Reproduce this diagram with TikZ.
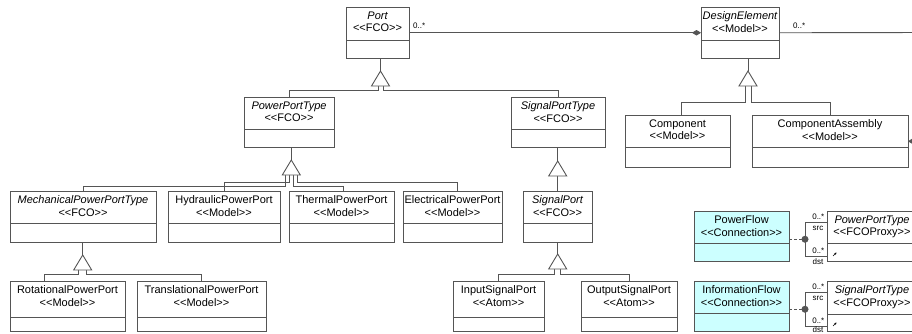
\documentclass[tikz,border=0pt]{standalone}
\usepackage{fontspec}
\setmainfont{Liberation Sans}
\usetikzlibrary{calc,arrows.meta}
\definecolor{ln}{RGB}{85,85,85}
\definecolor{cyanfill}{RGB}{204,255,255}
\tikzset{
  umlline/.style={draw=ln, line width=0.9pt},
  clsbox/.style={draw=ln, line width=0.9pt, rectangle, inner sep=0pt, outer sep=0pt},
  clstext/.style={font=\fontsize{11}{12.5}\selectfont, align=center, inner sep=0pt, anchor=north, text=black},
  smalllbl/.style={font=\fontsize{8}{9}\selectfont, inner sep=0pt, text=black},
  dashline/.style={draw=ln, line width=0.9pt, dash pattern=on 3pt off 2pt},
  aggr/.style={draw=ln, line width=0.9pt, -{Diamond[length=9pt,width=5.5pt]}},
  proxyarrow/.style={draw=black, line width=0.6pt, -{Stealth[length=2.4pt,width=2.4pt]}},
}
\newcommand\st[1]{<{}<#1>{}>}
% name, left, top, width, height, divider offset, line1, line2, fill
\newcommand\umlcls[9]{%
  \node[clsbox, fill=#9, minimum width=#4, minimum height=#5] (#1) at ({#2+#4/2},{#3+#5/2}) {};
  \node[clstext] (#1-txt) at ({#2+#4/2},{#3+4.5}) {#7\\#8};
  \draw[umlline] ($(#1.north west)+(0,#6)$) -- ($(#1.north east)+(0,#6)$);
}
\newcommand\gtri[1]{\draw[umlline, fill=white] (#1) -- ++(-9,15) -- ++(18,0) -- cycle;}
\begin{document}
\begin{tikzpicture}[x=1pt,y=-1pt]
\clip (0,0) rectangle (912,333);
\fill[white] (0,0) rectangle (912,333);

\umlcls{port}{346}{7}{63}{51.5}{33}{\itshape Port}{\st{FCO}}{white}
\umlcls{de}{701}{7}{78}{51.5}{33}{\itshape DesignElement}{\st{Model}}{white}
\umlcls{ppt}{244}{97}{90}{50.5}{32.5}{\itshape PowerPortType}{\st{FCO}}{white}
\umlcls{spt}{511}{97}{94}{50.5}{32.5}{\itshape SignalPortType}{\st{FCO}}{white}
\umlcls{comp}{625}{115}{105}{52.5}{32.5}{Component}{\st{Model}}{white}
\umlcls{ca}{752}{115}{156}{52.5}{32.5}{ComponentAssembly}{\st{Model}}{white}
\umlcls{mech}{10}{191}{146}{51.5}{32.5}{\itshape MechanicalPowerPortType}{\st{FCO}}{white}
\umlcls{hyd}{168}{191}{112}{51.5}{32.5}{HydraulicPowerPort}{\st{Model}}{white}
\umlcls{therm}{289}{191}{105}{51.5}{32.5}{ThermalPowerPort}{\st{Model}}{white}
\umlcls{elec}{403}{191}{99}{51.5}{32.5}{ElectricalPowerPort}{\st{Model}}{white}
\umlcls{sp}{523}{191}{69}{51.5}{32.5}{\itshape SignalPort}{\st{FCO}}{white}
\umlcls{rot}{10}{281}{115}{50}{36}{RotationalPowerPort}{\st{Model}}{white}
\umlcls{trans}{137}{281}{129}{50}{36}{TranslationalPowerPort}{\st{Model}}{white}
\umlcls{isp}{453}{281}{91}{50}{36}{InputSignalPort}{\st{Atom}}{white}
\umlcls{osp}{581}{281}{96}{50}{36}{OutputSignalPort}{\st{Atom}}{white}
\umlcls{pf}{694}{211}{95}{50}{32.5}{PowerFlow}{\st{Connection}}{cyanfill}
\umlcls{infl}{694}{281}{95}{50}{32.5}{InformationFlow}{\st{Connection}}{cyanfill}
\umlcls{pptp}{827}{211}{90}{50}{32}{\itshape PowerPortType}{\st{FCOProxy}}{white}
\umlcls{sptp}{827}{281}{90}{50}{33}{\itshape SignalPortType}{\st{FCOProxy}}{white}

% Port generalization
\coordinate (gPort) at (380.5,71);
\draw[umlline] (port.south -| gPort) -- (gPort);
\draw[umlline] ($(gPort)+(-2.5,15)$) -- ++(0,4) -| (ppt.north);
\draw[umlline] ($(gPort)+(2.5,15)$) -- ++(0,4) -| (spt.north);
\gtri{gPort}

% DesignElement generalization
\coordinate (gDE) at (748,71);
\draw[umlline] (de.south -| gDE) -- (gDE);
\draw[umlline] ($(gDE)+(-3,15)$) -- ++(0,16.7) -| ($(comp.north)+(4,0)$);
\draw[umlline] ($(gDE)+(3,15)$) -- ++(0,16.7) -| (ca.north);
\gtri{gDE}

% PowerPortType generalization
\coordinate (gPPT) at (291.3,160);
\draw[umlline] (ppt.south -| gPPT) -- (gPPT);
\draw[umlline] ($(gPPT)+(-6,15)$) -- ++(0,11) -| (mech.north);
\draw[umlline] ($(gPPT)+(-2,15)$) -- ++(0,7) -| (hyd.north);
\draw[umlline] ($(gPPT)+(2,15)$) -- ++(0,11) -| ($(therm.north)+(1.5,0)$);
\draw[umlline] ($(gPPT)+(6,15)$) -- ++(0,7) -| ($(elec.north)+(5,0)$);
\gtri{gPPT}

% SignalPortType generalization
\coordinate (gSPT) at (557.7,161);
\draw[umlline] (spt.south -| gSPT) -- (gSPT);
\draw[umlline] ($(gSPT)+(0,15)$) -- (sp.north -| gSPT);
\gtri{gSPT}

% SignalPort generalization
\coordinate (gSP) at (557.7,254);
\draw[umlline] (sp.south -| gSP) -- (gSP);
\draw[umlline] ($(gSP)+(-3,15)$) -- ++(0,5) -| (isp.north);
\draw[umlline] ($(gSP)+(3,15)$) -- ++(0,5) -| (osp.north);
\gtri{gSP}

% MechanicalPowerPortType generalization
\coordinate (gMech) at (82.7,255);
\draw[umlline] (mech.south -| gMech) -- (gMech);
\draw[umlline] ($(gMech)+(-4,15)$) -- ++(0,4.3) -| ($(rot.north west)+(34,0)$);
\draw[umlline] ($(gMech)+(4,15)$) -- ++(0,4.3) -| (trans.north);
\gtri{gMech}

% associations
\draw[aggr] (port.east) -- (de.west);
\node[smalllbl, anchor=west] (lblPort) at (413,25.5) {0..*};
\coordinate (deOut) at (930,32.5);
\draw[umlline] (de.east) -- (deOut);
\node[smalllbl, anchor=west] (lblDE) at (793,25.5) {0..*};
\coordinate (caOut) at (940,141.25);
\draw[aggr] (caOut) -- (ca.east);

% PowerFlow connection
\coordinate (pfDot) at (805,239.25);
\draw[dashline] (pf.east |- pfDot) -- (pfDot);
\draw[umlline] (pfDot) ++(0,-16.75) coordinate (pfS) -- ++(0,33.5) coordinate (pfD);
\draw[umlline] (pfS) -- (pfS -| pptp.west);
\draw[umlline] (pfD) -- (pfD -| pptp.west);
\fill[ln] (pfDot) circle (3.5pt);
\node[smalllbl, anchor=east] (pfL1) at ($(pfS)+(19.5,-5.5)$) {0..*};
\node[smalllbl] (pfL2) at ($(pfS)+(13,5.5)$) {src};
\node[smalllbl, anchor=east] (pfL3) at ($(pfD)+(19.5,-5.5)$) {0..*};
\node[smalllbl] (pfL4) at ($(pfD)+(13,5.5)$) {dst};
\draw[proxyarrow] ($(pptp.south west)+(6,-5)$) -- ++(3.5,-3.5);

% InformationFlow connection
\coordinate (ifDot) at (805,309.25);
\draw[dashline] (infl.east |- ifDot) -- (ifDot);
\draw[umlline] (ifDot) ++(0,-16.75) coordinate (ifS) -- ++(0,33.5) coordinate (ifD);
\draw[umlline] (ifS) -- (ifS -| sptp.west);
\draw[umlline] (ifD) -- (ifD -| sptp.west);
\fill[ln] (ifDot) circle (3.5pt);
\node[smalllbl, anchor=east] (ifL1) at ($(ifS)+(19.5,-5.5)$) {0..*};
\node[smalllbl] (ifL2) at ($(ifS)+(13,5.5)$) {src};
\node[smalllbl, anchor=east] (ifL3) at ($(ifD)+(19.5,-5.5)$) {0..*};
\node[smalllbl] (ifL4) at ($(ifD)+(13,3.2)$) {dst};
\draw[proxyarrow] ($(sptp.south west)+(6,-5)$) -- ++(3.5,-3.5);
\end{tikzpicture}
\end{document}
